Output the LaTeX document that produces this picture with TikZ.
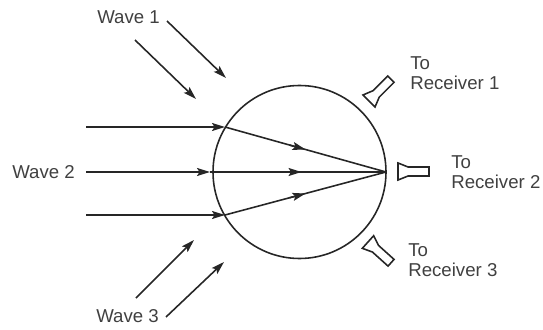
\documentclass[tikz,border=0pt]{standalone}
\usepackage{fontspec}
\setmainfont{Liberation Sans}
\usetikzlibrary{calc,arrows.meta}
\tikzset{
	ray/.style={line width=0.9pt, color=black!85},
	label/.style={font=\fontsize{10.6}{11.4}\selectfont, text=black!75, inner sep=0pt, align=left},
	horn/.pic={\draw[line width=0.9pt, color=black!85] (0,0.17) -- (0.2,0.09) -- (0.62,0.09) -- (0.62,-0.09) -- (0.2,-0.09) -- (0,-0.17) -- cycle;}
}
\begin{document}
\begin{tikzpicture}[>={Stealth[length=0.26cm,width=0.16cm,inset=0.05cm]}]
	\useasboundingbox (0,0) rectangle (10.86,6.58);
	\coordinate (O) at (5.99,3.14);  % centre of the lens
	\coordinate (F) at (7.72,3.14);  % focus on the rim
	\coordinate (A) at (4.5,4.04);
	\coordinate (B) at (4.2,3.14);
	\coordinate (C) at (4.5,2.28);
	% lens
	\draw[ray] (O) circle (1.73);
	% wave 2
	\draw[ray,->] (1.72,4.04) -- (A);
	\draw[ray,->] (1.72,3.14) -- (B);
	\draw[ray,->] (1.72,2.28) -- (C);
	% rays inside the lens
	\draw[ray] (A) -- (F);
	\draw[ray] (B) -- (F);
	\draw[ray] (C) -- (F);
	\draw[ray,->] ($(A)!0.4!(F)$) -- ($(A)!0.5!(F)$);
	\draw[ray,->] ($(B)!0.4!(F)$) -- ($(B)!0.52!(F)$);
	\draw[ray,->] ($(C)!0.4!(F)$) -- ($(C)!0.5!(F)$);
	% wave 1
	\draw[ray,->] (3.34,6.16) -- (4.52,5.02);
	\draw[ray,->] (2.70,5.78) -- (3.92,4.60);
	% wave 3
	\draw[ray,->] (2.72,0.62) -- (3.88,1.78);
	\draw[ray,->] (3.32,0.24) -- (4.48,1.34);
	% receiver horns
	\pic[rotate=45] at (7.38,4.56) {horn};
	\pic at (7.96,3.15) {horn};
	\pic[rotate=-42] at (7.36,1.74) {horn};
	% labels
	\node[label,anchor=west] (wave1) at (1.94,6.24) {Wave 1};
	\node[label,anchor=west] (wave2) at (0.24,3.14) {Wave 2};
	\node[label,anchor=west] (wave3) at (1.92,0.26) {Wave 3};
	\node[label,anchor=west] (rx1) at (8.2,5.12) {To\\Receiver 1};
	\node[label,anchor=west] (rx2) at (9.02,3.14) {To\\Receiver 2};
	\node[label,anchor=west] (rx3) at (8.16,1.38) {To\\Receiver 3};
\end{tikzpicture}
\end{document}
